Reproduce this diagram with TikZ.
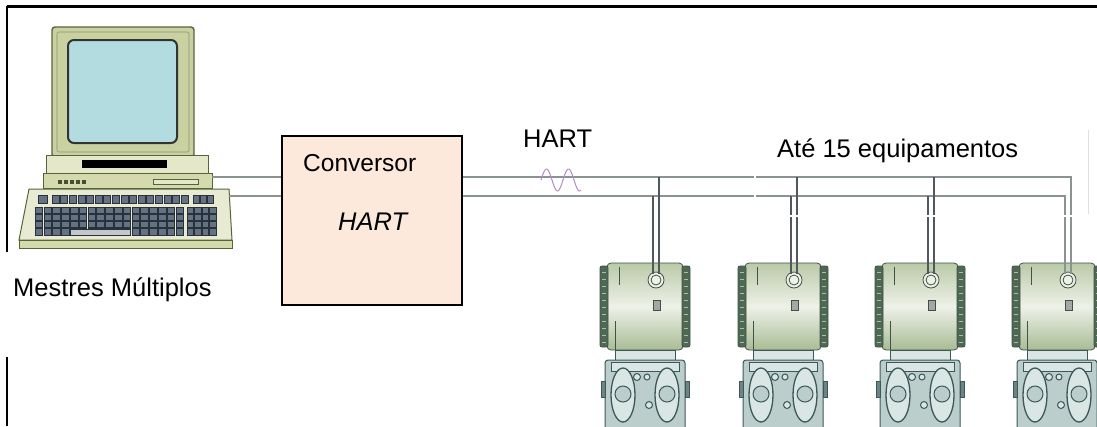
\documentclass[tikz,border=0pt]{standalone}
\usepackage{fontspec}
\setmainfont{Liberation Sans}
\usetikzlibrary{calc}

\definecolor{monbez}{RGB}{201,209,160}
\definecolor{monedge}{RGB}{86,100,60}
\definecolor{screenc}{RGB}{178,220,224}
\definecolor{baselt}{RGB}{228,231,200}
\definecolor{basemid}{RGB}{212,218,172}
\definecolor{kbdc}{RGB}{232,235,210}
\definecolor{keyfill}{RGB}{100,114,130}
\definecolor{keyedge}{RGB}{40,50,60}
\definecolor{wirec}{RGB}{138,146,146}
\definecolor{dropc}{RGB}{80,88,92}
\definecolor{convfill}{RGB}{252,233,220}
\definecolor{wavec}{RGB}{180,140,200}
\definecolor{headtop}{RGB}{186,202,168}
\definecolor{headmid}{RGB}{238,241,232}
\definecolor{headbot}{RGB}{168,188,148}
\definecolor{ribc}{RGB}{78,104,84}
\definecolor{ribtick}{RGB}{170,190,160}
\definecolor{tedge}{RGB}{62,82,70}
\definecolor{bedge}{RGB}{60,88,88}
\definecolor{bodyc}{RGB}{188,206,204}
\definecolor{bodyl}{RGB}{218,230,228}
\definecolor{bodyd}{RGB}{110,132,130}

\newcommand\diagfont{\fontsize{25.5}{30}\selectfont}

\tikzset{
  outl/.style={draw=tedge, line width=0.8pt},
  boutl/.style={draw=bedge, line width=1pt},
  bus/.style={draw=wirec, line width=1.9pt},
  dropwire/.style={draw=dropc, line width=1.1pt},
  txt/.style={inner sep=0pt, anchor=base west, font=\diagfont},
  convbox/.style={draw=black, line width=1.3pt, fill=convfill,
    minimum width=180pt, minimum height=169pt, inner sep=0pt},
  keycap/.style={fill=keyfill, draw=keyedge, line width=0.4pt},
  % pressure transmitter: head with terminal cover, flange body below
  transmitter/.pic={
    % housing
    \draw[outl, rounded corners=4, top color=headtop, bottom color=headbot,
          middle color=headmid] (-38,0) rectangle (38,87);
    \draw[outl, fill=ribc, rounded corners=2] (-45,3) rectangle (-37,84);
    \draw[outl, fill=ribc, rounded corners=2] (37,3) rectangle (45,84);
    \foreach \yy in {9,16,...,80} {
      \draw[ribtick, line width=0.7pt] (-43,\yy) -- (-39,\yy);
      \draw[ribtick, line width=0.7pt] (39,\yy) -- (43,\yy);
    }
    \draw[tedge, line width=0.5pt] (-26,4) -- (-26,22);
    \draw[tedge, line width=0.5pt] (-30,58) -- (-30,87);
    % cable entry
    \draw[outl, fill=headmid] (11,17) circle[radius=8];
    \draw[outl] (11,17) circle[radius=5];
    \draw[outl, fill=gray!70] (8,37) rectangle (15,47);
    % neck and process flange
    \draw[boutl, fill=bodyl] (-30,87) rectangle (30,97);
    \draw[boutl, fill=bodyc, rounded corners=3] (-40,97) rectangle (40,175);
    \draw[boutl, fill=bodyl] (-34,99) rectangle (34,108);
    \draw[boutl, fill=bodyd] (-44,118) rectangle (-40,134);
    \draw[boutl, fill=bodyd] (40,118) rectangle (44,134);
    \foreach \xx in {-22,22} {
      \draw[boutl, line width=1.3pt, fill=bodyl] (\xx,132) ellipse[x radius=12, y radius=27];
      \draw[boutl, fill=bodyc] (\xx,131) circle[radius=8];
    }
    \draw[boutl, fill=bodyl] (-8,114) circle[radius=3.5];
    \draw[boutl, fill=bodyl] (4,142) circle[radius=3.5];
    \draw[boutl, fill=bodyl] (2,114) circle[radius=3];
    % wiring terminals
    \coordinate (-a) at (14,11);
    \coordinate (-b) at (8,11);
  }
}

\begin{document}
\begin{tikzpicture}[x=1pt, y=-1pt]
\useasboundingbox (0,0) rectangle (1097,426);
\clip (0,0) rectangle (1097,426);
\fill[white] (0,0) rectangle (1097,426);

% frame
\draw[black, line width=3pt] (7,6) -- (1097,6);
\draw[black, line width=2.6pt] (7,6) -- (7,252);
\draw[black, line width=2.6pt] (7,357) -- (7,426);

% ---------- computer ----------
% monitor
\draw[draw=monedge, line width=1.4pt, fill=monbez, rounded corners=3] (52,27) rectangle (194,157);
\draw[draw=monedge!70, line width=0.6pt, rounded corners=2] (57,32) rectangle (189,152);
\draw[draw=black!80, line width=2pt, fill=screenc, rounded corners=6] (68,40) rectangle (177,143);
% system unit
\draw[draw=monedge, line width=1pt, fill=baselt] (46,155) rectangle (208,173);
\fill[black] (82,160) rectangle (167,168);
\draw[draw=monedge, line width=1pt, fill=basemid] (43,173) rectangle (212,188);
\foreach \xx in {58,64,70,76,82} \fill[monedge!80!black] (\xx,180) rectangle ++(4,4);
\draw[draw=monedge, line width=0.7pt, fill=baselt] (153,179) rectangle (198,184);
% keyboard
\draw[draw=monedge, line width=1pt, fill=kbdc] (29,189) -- (229,189) -- (232,240) -- (19,240) -- cycle;
\draw[draw=monedge, line width=1pt, fill=basemid] (19,240) rectangle (232,248);
\draw[keycap] (38,195) rectangle (47,203);
\foreach \i in {0,...,15} \draw[keycap] (52+\i*8.6,195) rectangle ++(7,8);
\foreach \i in {0,...,2} \draw[keycap] (193+\i*7,195) rectangle ++(6,8);
\foreach \r in {0,...,3} {
  \foreach \i in {0,...,16} \draw[keycap] (35+\i*8.8,207+\r*7.2) rectangle ++(7.6,6.2);
  \foreach \i in {0,...,3} \draw[keycap] (187+\i*7.5,207+\r*7.2) rectangle ++(6.5,6.2);
}
\fill[kbdc] (70,229) rectangle (130,235);
\draw[keycap, fill=keyfill!40] (70,229) rectangle (130,235);
\coordinate (pcA) at (212,177);
\coordinate (pcB) at (229,196);

% ---------- field devices ----------
\pic (t1) at (645,263) {transmitter};
\pic (t2) at (783,263) {transmitter};
\pic (t3) at (920,263) {transmitter};
\pic (t4) at (1057,263) {transmitter};

% ---------- two-wire bus ----------
\draw[bus] (pcA) -- (t4-a |- pcA) -- (t4-a);
\draw[bus] (pcB) -- (t4-b |- pcB) -- (t4-b);
\foreach \t in {t1,t2,t3} {
  \draw[dropwire] (\t-a |- pcA) -- (\t-a);
  \draw[dropwire] (\t-b |- pcB) -- (\t-b);
}
\draw[white, line width=1.2pt] (755,216) -- (1075,216);
\draw[white, line width=1.2pt] (755,170) -- (755,202);
\draw[gray!25, line width=0.6pt] (1088,130) -- (1088,214);

% HART signal riding on the loop
\draw[wavec, line width=1pt] plot[domain=0:40, samples=60]
  ({541+\x}, {180-11*sin(\x*360/22)});

% ---------- converter ----------
\node[convbox] (conv) at (372,220.5) {};
\node[txt] (convt) at (303,171) {\fontsize{24.5}{28}\selectfont Conversor};
\node[txt] (convh) at (338,230) {\itshape HART};

% ---------- labels ----------
\node[txt] (master) at (13,296) {Mestres Múltiplos};
\node[txt] (hart) at (523,147) {HART};
\node[txt] (count) at (777,157) {Até 15 equipamentos};
\end{tikzpicture}
\end{document}
